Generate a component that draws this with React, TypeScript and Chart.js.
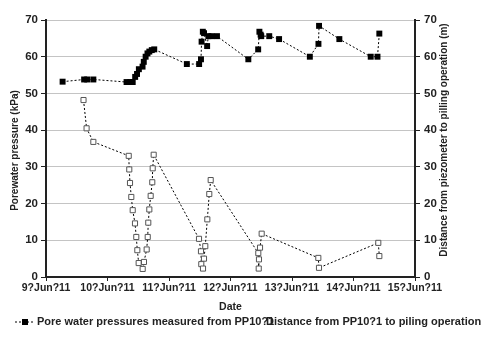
import React, { useEffect, useRef } from "react";
import { Chart, registerables } from "chart.js";

Chart.register(...registerables);

const dateLabels = ["9?Jun?11", "10?Jun?11", "11?Jun?11", "12?Jun?11", "13?Jun?11", "14?Jun?11", "15?Jun?11"];

// x = days after 9 Jun 2011
const pwpDays = [0.27, 0.62, 0.67, 0.77, 1.31, 1.37, 1.41, 1.45, 1.48, 1.51, 1.57, 1.59, 1.62, 1.65, 1.68, 1.72, 1.76, 2.29, 2.49, 2.52, 2.53, 2.55, 2.57, 2.62, 2.64, 2.69, 2.78, 3.29, 3.45, 3.47, 3.49, 3.5, 3.63, 3.79, 4.29, 4.43, 4.44, 4.77, 5.28, 5.39, 5.42];
const pwpValues = [53.2, 53.8, 53.8, 53.8, 53.1, 53.1, 53.1, 54.5, 55.3, 56.6, 57.3, 58.6, 60.0, 60.9, 61.4, 61.8, 62.0, 58.0, 58.0, 59.3, 64.1, 66.8, 66.4, 62.9, 65.6, 65.6, 65.6, 59.3, 62.0, 66.8, 66.0, 65.6, 65.6, 64.8, 60.0, 63.5, 68.4, 64.8, 60.0, 60.0, 66.3];

const distDays = [0.61, 0.66, 0.77, 1.345, 1.354, 1.366, 1.387, 1.41, 1.447, 1.468, 1.485, 1.507, 1.572, 1.593, 1.637, 1.654, 1.663, 1.68, 1.702, 1.728, 1.735, 1.751, 2.488, 2.52, 2.525, 2.553, 2.569, 2.59, 2.623, 2.655, 2.678, 3.452, 3.459, 3.463, 3.48, 3.507, 4.428, 4.439, 5.403, 5.42];
const distValues = [48.2, 40.5, 36.8, 33.0, 29.3, 25.6, 21.8, 18.2, 14.6, 10.9, 7.3, 3.8, 2.2, 4.1, 7.5, 10.9, 14.8, 18.4, 22.1, 25.8, 29.6, 33.3, 10.4, 7.0, 3.5, 2.3, 5.0, 8.4, 15.7, 22.6, 26.4, 6.5, 2.3, 4.8, 8.0, 11.8, 5.2, 2.5, 9.3, 5.7];

const seriesNames = ["Pore water pressures measured from PP10?1", "Distance from PP10?1 to piling operation"];
const leftTitle = "Porewater pressure (kPa)";
const rightTitle = "Distance from piezometer to pilling operation (m)";
const xTitle = "Date";

const FONT = "'Liberation Sans', Arial, sans-serif";

const textPlugin = {
  id: "customText",
  afterDraw(chart: any) {
    const ctx = chart.ctx as CanvasRenderingContext2D;
    const area = chart.chartArea;
    ctx.save();
    ctx.fillStyle = "#222";
    ctx.textAlign = "center";
    ctx.textBaseline = "middle";
    // left title
    ctx.font = `bold 10px ${FONT}`;
    ctx.save();
    ctx.translate(15, (area.top + area.bottom) / 2 + 2);
    ctx.rotate(-Math.PI / 2);
    ctx.fillText(leftTitle, 0, 0);
    ctx.restore();
    // right title
    ctx.font = `bold 10px ${FONT}`;
    ctx.save();
    ctx.translate(444, 140);
    ctx.rotate(-Math.PI / 2);
    ctx.fillText(rightTitle, 0, 0);
    ctx.restore();
    // legend
    const ly = 322;
    ctx.strokeStyle = "#000";
    ctx.lineWidth = 1;
    ctx.setLineDash([2, 2]);
    ctx.beginPath();
    ctx.moveTo(15, ly);
    ctx.lineTo(35, ly);
    ctx.stroke();
    ctx.setLineDash([]);
    ctx.fillStyle = "#000";
    ctx.fillRect(22, ly - 3, 6, 6);
    ctx.fillStyle = "#222";
    ctx.font = `bold 11px ${FONT}`;
    ctx.textAlign = "left";
    ctx.fillText(seriesNames[0], 37, ly);
    ctx.fillText(seriesNames[1], 266, ly);
    ctx.restore();
  },
};

export default function App() {
  const ref = useRef<HTMLCanvasElement | null>(null);
  useEffect(() => {
    if (!ref.current) return;
    const chart = new Chart(ref.current, {
      type: "scatter",
      data: {
        datasets: [
          {
            label: seriesNames[0],
            data: pwpDays.map((d, i) => ({ x: d, y: pwpValues[i] })),
            showLine: true,
            borderColor: "#000",
            borderWidth: 1,
            borderDash: [2, 2],
            pointStyle: "rect",
            pointRadius: 4.2,
            pointBackgroundColor: "#000",
            pointBorderColor: "#000",
            pointBorderWidth: 0,
            yAxisID: "y",
          },
          {
            label: seriesNames[1],
            data: distDays.map((d, i) => ({ x: d, y: distValues[i] })),
            showLine: true,
            borderColor: "#000",
            borderWidth: 1,
            borderDash: [2, 2],
            pointStyle: "rect",
            pointRadius: 3.6,
            pointBackgroundColor: "#fff",
            pointBorderColor: "#555",
            pointBorderWidth: 1,
            yAxisID: "y2",
          },
        ],
      },
      options: {
        responsive: false,
        animation: false,
        layout: { padding: { top: 20, bottom: 24, left: 0, right: 0 } },
        plugins: { legend: { display: false }, tooltip: { enabled: false } },
        scales: {
          x: {
            type: "linear",
            min: 0,
            max: 6,
            afterFit: (s: any) => { s.height = 36; },
            afterBuildTicks: (s: any) => { s.ticks = dateLabels.map((_, i) => ({ value: i })); },
            ticks: {
              stepSize: 1,
              autoSkip: false,
              maxRotation: 0,
              padding: 1,
              color: "#222",
              font: { family: FONT, size: 10.5, weight: "bold" },
              callback: (v: any) => dateLabels[Math.round(Number(v))] ?? "",
            },
            grid: { drawOnChartArea: false, drawTicks: true, tickLength: 4, tickColor: "#222" },
            border: { display: true, color: "#222", width: 2 },
            title: { display: true, text: xTitle, color: "#222", font: { family: FONT, size: 10.5, weight: "bold" }, padding: 0 },
          },
          y: {
            position: "left",
            min: 0,
            max: 70,
            afterFit: (s: any) => { s.width = 46; },
            ticks: { stepSize: 10, padding: 3, color: "#222", font: { family: FONT, size: 11.5, weight: "bold" } },
            grid: { color: "#c4c4c4", lineWidth: 1, drawTicks: true, tickLength: 5, tickColor: "#222" },
            border: { display: true, color: "#222", width: 2 },
          },
          y2: {
            position: "right",
            min: 0,
            max: 70,
            afterFit: (s: any) => { s.width = 76; },
            ticks: { stepSize: 10, padding: 4, color: "#222", font: { family: FONT, size: 11.5, weight: "bold" } },
            grid: { drawOnChartArea: false, drawTicks: true, tickLength: 5, tickColor: "#222" },
            border: { display: true, color: "#222", width: 2 },
          },
        },
      } as any,
      plugins: [textPlugin],
    });
    return () => chart.destroy();
  }, []);
  return (
    <div style={{ position: "absolute", left: 0, top: 0, width: 491, height: 337, background: "#fff" }}>
      <canvas ref={ref} width={491} height={337} style={{ display: "block" }} />
    </div>
  );
}
